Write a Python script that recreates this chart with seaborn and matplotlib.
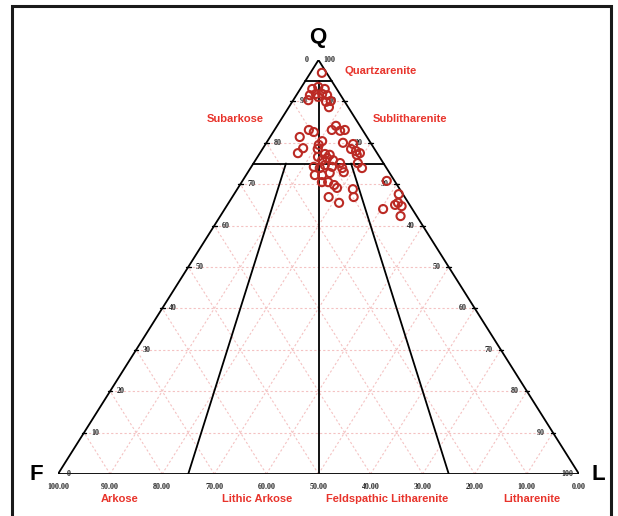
import matplotlib
matplotlib.use("Agg")
import matplotlib.pyplot as plt
from matplotlib.patches import Rectangle
import numpy as np
import pandas as pd
import seaborn as sns

# Modal composition (%) of the sandstone samples: quartz, feldspar, lithic fragments
quartz = [96.9, 93.0, 93.5, 93.0, 91.5, 91.8, 91.8, 91.5, 90.3, 91.1, 89.9, 88.6, 90.1,
          84.1, 83.1, 82.9, 83.1, 81.4, 83.1, 82.6, 80.4, 79.5, 80.0, 79.7, 78.7, 77.5,
          78.5, 78.0, 77.5, 78.5,
          77.3, 77.1, 76.3, 75.8, 75.8, 76.6, 75.1, 77.1, 75.1, 73.9, 74.2, 73.9, 74.6,
          74.2, 73.9, 72.9, 72.2, 72.2, 72.7, 70.5, 70.5, 69.8, 69.1, 68.8, 66.9, 66.9, 65.5,
          70.8, 67.6, 65.5, 65.0, 64.7, 64.0, 62.3]
feldspar = [0.9, 4.7, 3.3, 2.3, 5.9, 4.6, 3.4, 2.6, 6.8, 4.5, 3.6, 3.7, 2.6,
            4.6, 5.9, 4.4, 3.4, 12.9, 10.3, 9.6, 9.1, 10.2, 5.3, 3.5, 13.6, 15.2,
            4.5, 3.8, 3.3, 10.9,
            10.1, 9.3, 10.2, 11.4, 9.3, 11.8, 8.3, 4.1, 4.9, 4.7, 13.8, 12.8, 11.5,
            10.3, 8.5, 8.7, 14.6, 13.2, 11.5, 14.1, 12.9, 12.1, 11.9, 9.0, 9.8, 14.6, 13.3,
            1.5, 0.8, 2.0, 2.8, 1.7, 5.6, 3.1]
lithics = [2.2, 2.3, 3.2, 4.7, 2.6, 3.6, 4.8, 5.9, 2.9, 4.4, 6.5, 7.7, 7.3,
           11.3, 11.0, 12.7, 13.5, 5.7, 6.6, 7.8, 10.5, 10.3, 14.7, 16.8, 7.7, 7.3,
           17.0, 18.2, 19.2, 10.6,
           12.6, 13.6, 13.5, 12.8, 14.9, 11.6, 16.6, 18.8, 20.0, 21.4, 12.0, 13.3, 13.9,
           15.5, 17.6, 18.4, 13.2, 14.6, 15.8, 15.4, 16.6, 18.1, 19.0, 22.2, 23.3, 18.5, 21.2,
           27.7, 31.6, 32.5, 32.2, 33.6, 30.4, 34.6]

# Folk (1980) field names and the axis tick values
field_names = ["Quartzarenite", "Subarkose", "Sublitharenite", "Arkose",
               "Lithic Arkose", "Feldspathic Litharenite", "Litharenite"]
edge_ticks = [10, 20, 30, 40, 50, 60, 70, 80, 90]
base_ticks = [100, 90, 80, 70, 60, 50, 40, 30, 20, 10, 0]

POINT = "#bb2a24"
FIELD = "#e8332b"
GRID = "#f4c2c2"
LABEL = "#222222"

sns.set_theme(style="white")
plt.rcParams["font.family"] = ["Liberation Sans", "DejaVu Sans"]

fig = plt.figure(figsize=(6.18, 5.16), dpi=100)
fig.patch.set_facecolor("white")
ax = fig.add_axes([58 / 618, 42 / 516, 521 / 618, 414 / 516])


def to_xy(q, f, l):
    q, f, l = np.asarray(q, float), np.asarray(f, float), np.asarray(l, float)
    tot = q + f + l
    q, l = q / tot * 100, l / tot * 100
    return l + q / 2, q


# light grid of constant Q, F and L
for c in edge_ticks:
    ax.plot([c / 2, 100 - c / 2], [c, c], color=GRID, lw=0.8, ls=(0, (2, 2)), zorder=1)
    x, y = to_xy([0, 100 - c], [100 - c, 0], [c, c])
    ax.plot(x, y, color=GRID, lw=0.8, ls=(0, (2, 2)), zorder=1)
    x, y = to_xy([0, 100 - c], [c, c], [100 - c, 0])
    ax.plot(x, y, color=GRID, lw=0.8, ls=(0, (2, 2)), zorder=1)

# triangle outline
ax.plot([0, 100, 50, 0], [0, 0, 100, 0], color="black", lw=1.3, zorder=3)

# classification boundaries: Q = 95 %, Q = 75 %, and F:L = 3:1, 1:1, 1:3
for qb in (95, 75):
    x, y = to_xy([qb, qb], [100 - qb, 0], [0, 100 - qb])
    ax.plot(x, y, color="black", lw=1.3, zorder=3)
x, y = to_xy([95, 0], [2.5, 50], [2.5, 50])
ax.plot(x, y, color="black", lw=1.3, zorder=3)
for frac in (0.25, 0.75):
    x, y = to_xy([75, 0], [25 * (1 - frac), 100 * (1 - frac)], [25 * frac, 100 * frac])
    ax.plot(x, y, color="black", lw=1.3, zorder=3)

# edge ticks and labels
tick_font = dict(ha="center", va="center", fontsize=5.8, color=LABEL,
                 family="Liberation Serif", fontweight="bold",
                 textcoords="offset pixels")
for v in [0] + edge_ticks + [100]:
    xl, yl = v / 2, v
    if 0 < v < 100:
        ax.plot([xl - 0.45, xl + 0.45], [yl, yl], color="black", lw=1.0, zorder=3)
    ax.annotate(str(v), (xl, yl), xytext=(11, 0), **tick_font)
    xr = 100 - v / 2
    if 0 < v < 100:
        ax.plot([xr - 0.45, xr + 0.45], [yl, yl], color="black", lw=1.0, zorder=3)
    ax.annotate(str(100 - v), (xr, yl), xytext=(-12, 0), **tick_font)

for i, v in enumerate(base_ticks):
    ax.annotate(f"{v:.2f}", (i * 10, 0), xytext=(0, -13), **tick_font)

# samples
x, y = to_xy(quartz, feldspar, lithics)
df = pd.DataFrame({"x": x, "y": y})
sns.scatterplot(data=df, x="x", y="y", ax=ax, marker="o", s=34,
                facecolor="none", edgecolor=POINT, linewidth=1.5, zorder=4,
                legend=False)
ax.set_xlim(0, 100)
ax.set_ylim(0, 100)
ax.axis("off")


def fig_text(px, py, s, **kw):
    fig.text(px / 618, 1 - py / 516, s, ha="center", va="center", **kw)


# pole letters
fig_text(318, 37, "Q", fontsize=16, fontweight="bold", color="black")
fig_text(36, 474, "F", fontsize=16, fontweight="bold", color="black")
fig_text(598, 474, "L", fontsize=16, fontweight="bold", color="black")

# field names
field_pos = [(381, 71), (235, 119), (410, 119), (120, 499), (257, 499),
             (387, 499), (532, 499)]
for name, (px, py) in zip(field_names, field_pos):
    fig_text(px, py, name, fontsize=8, fontweight="bold", color=FIELD)

# outer frame
fig.add_artist(Rectangle((12 / 618, -0.1), (611 - 12) / 618, 1 - 6 / 516 + 0.1,
                         transform=fig.transFigure, fill=False, lw=2.2,
                         ec="#1a1a1a"))

fig.savefig("out.png", dpi=100)
